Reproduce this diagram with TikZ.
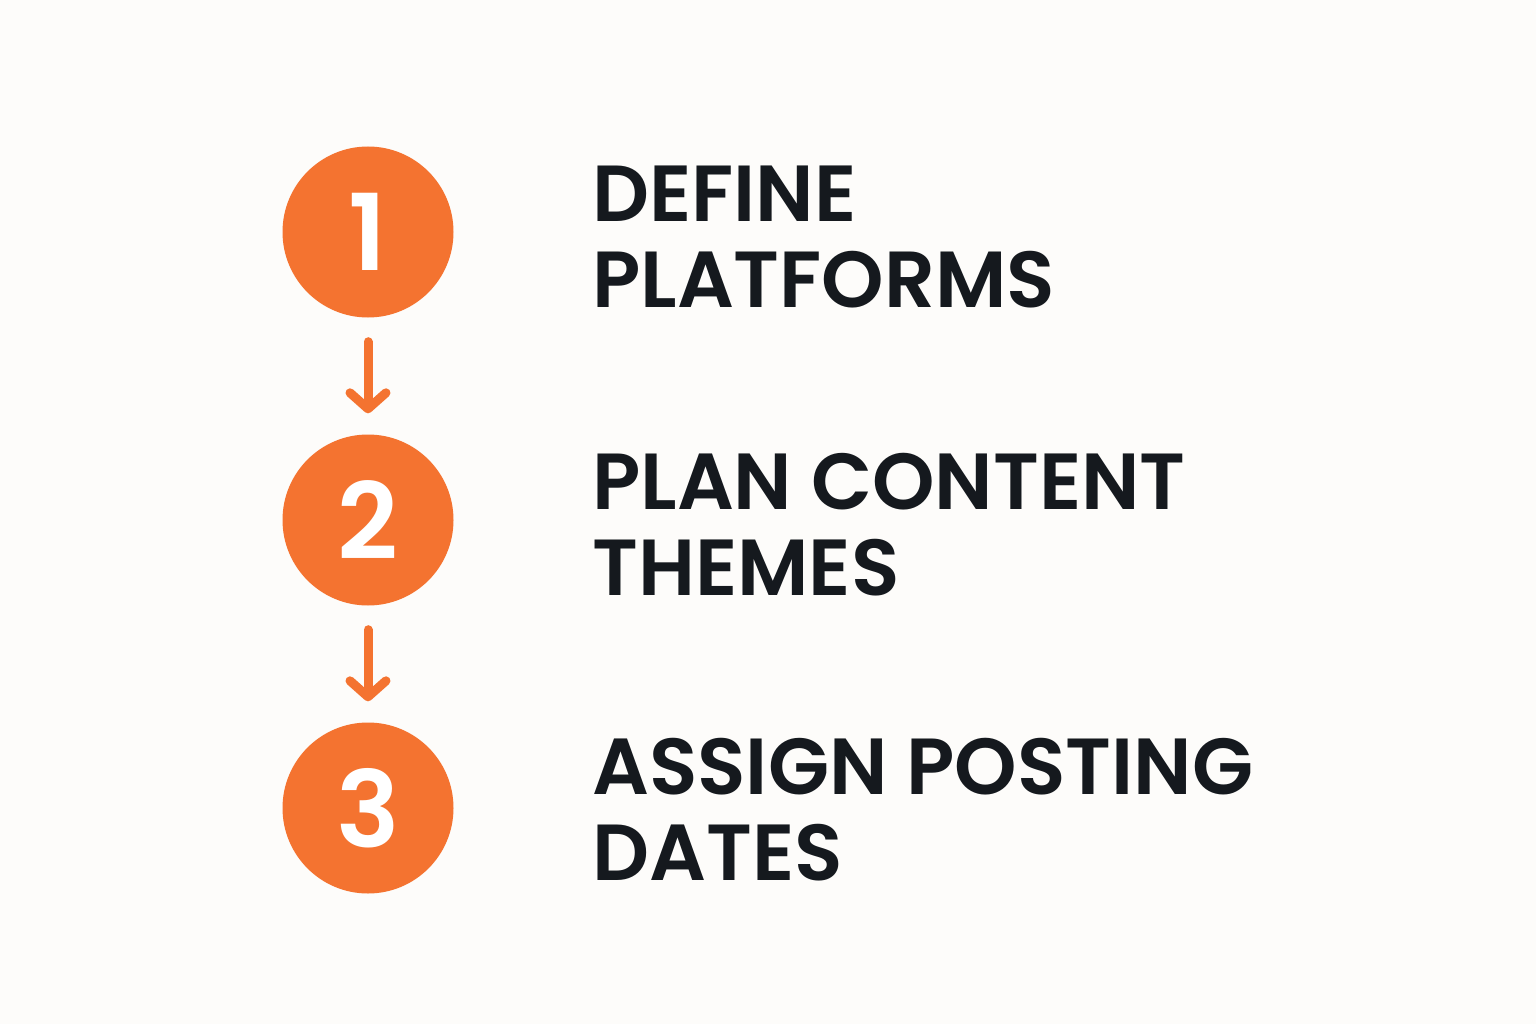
\documentclass[tikz,border=0pt]{standalone}
\usepackage{fontspec}
\setmainfont{Poppins}
\newfontfamily\stepfont{Poppins}[UprightFont=* SemiBold]
\usetikzlibrary{arrows.meta}
\usetikzlibrary{positioning}

\definecolor{stepfill}{HTML}{F47330}
\definecolor{inkdark}{HTML}{15191E}
\definecolor{paper}{HTML}{FDFCFA}

\begin{document}
\begin{tikzpicture}[x=1pt, y=-1pt,
  numcircle/.style={circle, fill=stepfill, draw=none, minimum size=171pt, inner sep=0pt,
    text=white, font=\fontsize{106}{106}\selectfont\stepfont},
  steptext/.style={anchor=base west, inner sep=0pt, align=left, text=inkdark,
    font=\fontsize{79.5}{86}\selectfont\stepfont},
  flow/.style={draw=stepfill, line width=9pt, line cap=round,
    -{Straight Barb[length=16pt, width=36pt, line width=9pt, line cap=round, line join=round]},
    shorten <=24pt, shorten >=21pt}]
        % Background
        \fill[paper] (0,0) rectangle (1536,1024);
        \useasboundingbox (0,0) rectangle (1536,1024);

        % Numbered circles
        \node[numcircle] (c1) at (368,232) {1};
        \node[numcircle] (c2) at (368,520) {2};
        \node[numcircle] (c3) at (368,808) {3};

        % Arrows between the steps
        \draw[flow] (c1) -- (c2);
        \draw[flow] (c2) -- (c3);

        % Step titles (base = baseline of the last line)
        \node[steptext] (t1) at (592,308) {DEFINE\\PLATFORMS};
        \node[steptext] (t2) at (592,595) {PLAN CONTENT\\THEMES};
        \node[steptext] (t3) at (592,880) {ASSIGN POSTING\\DATES};
      \end{tikzpicture}
\end{document}
